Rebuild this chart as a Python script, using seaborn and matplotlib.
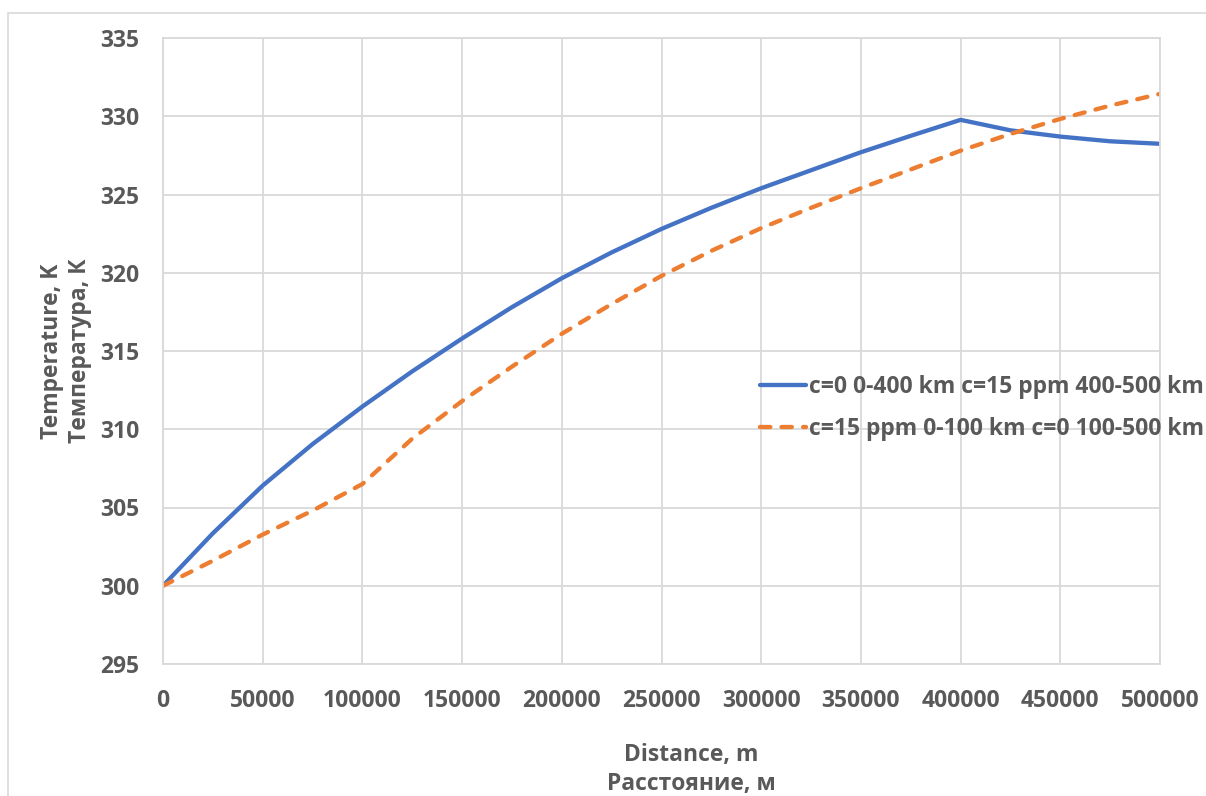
import seaborn as sns
import pandas as pd
import matplotlib.pyplot as plt
from matplotlib.patches import Rectangle

# distance along the route, m
distance = [0, 25000, 50000, 75000, 100000, 125000, 150000, 175000, 200000, 225000, 250000,
            275000, 300000, 325000, 350000, 375000, 400000, 425000, 450000, 475000, 500000]
# c=0 on 0-400 km, c=15 ppm on 400-500 km
temp_a = [300.0, 303.35, 306.4, 309.05, 311.45, 313.7, 315.8, 317.8, 319.65, 321.3, 322.8,
          324.15, 325.4, 326.55, 327.7, 328.75, 329.77, 329.1, 328.7, 328.4, 328.24]
# c=15 ppm on 0-100 km, c=0 on 100-500 km
temp_b = [300.0, 301.6, 303.27, 304.8, 306.5, 309.4, 311.8, 314.0, 316.1, 318.0, 319.8,
          321.4, 322.85, 324.15, 325.4, 326.6, 327.8, 328.87, 329.83, 330.68, 331.43]

labels = ['c=0 0-400 km c=15 ppm 400-500 km', 'c=15 ppm 0-100 km c=0 100-500 km']
x_ticks = list(range(0, 500001, 50000))
y_ticks = list(range(295, 336, 5))

df = pd.DataFrame({'dist': distance, 'a': temp_a, 'b': temp_b})

sns.set_style('white')
plt.rcParams['font.family'] = ['Open Sans', 'DejaVu Sans']
plt.rcParams['font.weight'] = 'bold'
txt = '#595959'
grid = '#D9D9D9'
fs = 16.5

fig = plt.figure(figsize=(12.06, 7.96), dpi=100)
ax = fig.add_axes([163 / 1206, 1 - 664 / 796, 997 / 1206, 626 / 796])

# chart area border (only top and left visible in the crop)
fig.patches.append(Rectangle((8 / 1206, -0.1), 1.2, 1.1 - 13 / 796, transform=fig.transFigure,
                             fill=False, edgecolor=grid, lw=1.2, zorder=0))

sns.lineplot(data=df, x='dist', y='a', ax=ax, color='#4472C4', lw=3.1,
             solid_capstyle='round', label=labels[0])
sns.lineplot(data=df, x='dist', y='b', ax=ax, color='#ED7D31', lw=3.1,
             linestyle=(0, (2.4, 2.6)), dash_capstyle='round', label=labels[1])

ax.set_xlim(0, 500000)
ax.set_ylim(295, 335)
ax.set_xticks(x_ticks)
ax.set_xticklabels([str(v) for v in x_ticks])
ax.set_yticks(y_ticks)
ax.set_yticklabels([str(v) for v in y_ticks])
ax.tick_params(axis='both', length=0, labelsize=fs, labelcolor=txt)
ax.tick_params(axis='y', pad=17)
ax.tick_params(axis='x', pad=18)
for t in ax.get_xticklabels() + ax.get_yticklabels():
    t.set_fontweight('bold')

ax.grid(True, color=grid, lw=1.3)
for s in ax.spines.values():
    s.set_color(grid)
    s.set_linewidth(1.3)

ax.set_xlabel('Distance, m\nРасстояние, м', fontsize=fs, fontweight='bold', color=txt,
              linespacing=1.3)
ax.xaxis.set_label_coords(0.53, -0.126)
ax.xaxis.label.set_va('top')
ax.set_ylabel('Temperature, K\nТемпература, К', fontsize=fs, fontweight='bold', color=txt,
              linespacing=1.25)
ax.yaxis.set_label_coords(-0.071, 0.5)

leg = ax.legend(loc='center left', bbox_to_anchor=(749 / 1206, 1 - 408 / 796),
                bbox_transform=fig.transFigure, frameon=False, fontsize=fs,
                handlelength=2.0, handletextpad=0.1, labelspacing=0.8, borderpad=0)
for t in leg.get_texts():
    t.set_color(txt)
    t.set_fontweight('bold')

fig.savefig('out.png', dpi=100)
